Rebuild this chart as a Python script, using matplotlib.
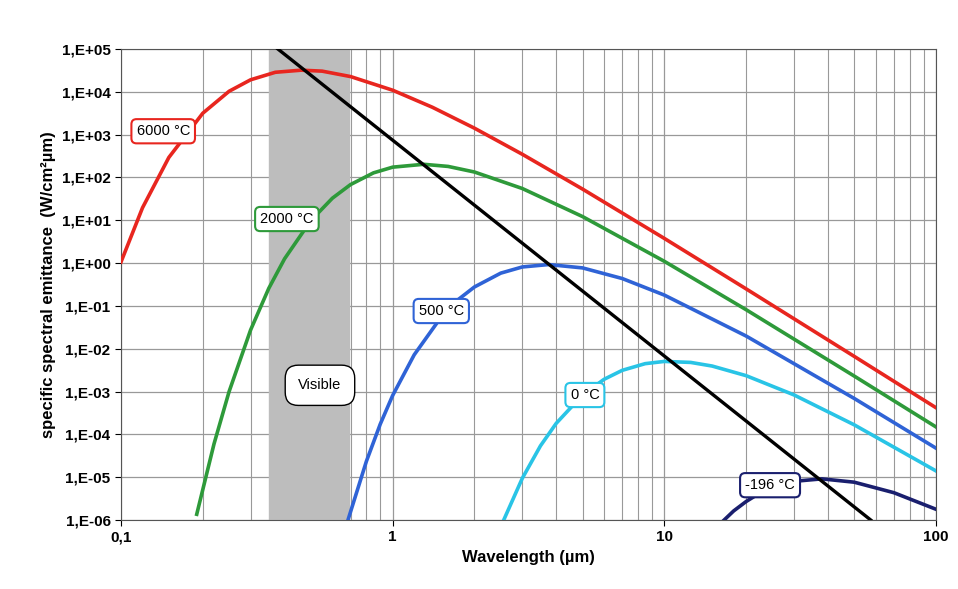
import numpy as np
import matplotlib
matplotlib.use('Agg')
import matplotlib.pyplot as plt
from matplotlib.ticker import FixedLocator, FuncFormatter, NullFormatter

plt.rcParams['font.family'] = ['Liberation Sans', 'DejaVu Sans']

# values (wavelength in um, emittance in W/cm2um)
wl_6000 = [0.1, 0.12, 0.15, 0.2, 0.25, 0.3, 0.37, 0.46, 0.55, 0.7, 1, 1.4, 2, 3, 5, 10, 20, 50, 100]
em_6000 = [1.06, 19.6, 293, 3163, 1.03e4, 1.91e4, 2.86e4, 3.2e4, 3.04e4, 2.27e4, 1.09e4, 4360, 1415,
           348, 53.5, 3.77, 0.25, 6.63e-3, 4.19e-4]

wl_2000 = [0.19, 0.22, 0.25, 0.3, 0.35, 0.4, 0.5, 0.6, 0.7, 0.85, 1, 1.3, 1.6, 2, 3, 5, 10, 20, 50, 100]
em_2000 = [1.36e-6, 6.0e-5, 1.0e-3, 0.0275, 0.258, 1.26, 9.87, 32.8, 68.3, 128, 174, 203, 181, 134,
           55.2, 12.2, 1.10, 0.0816, 2.30e-3, 1.49e-4]

wl_500 = [0.68, 0.8, 0.9, 1, 1.2, 1.5, 1.75, 2, 2.5, 3, 3.75, 5, 7, 10, 20, 50, 100]
em_500 = [8.7e-7, 2.33e-5, 1.73e-4, 8.1e-4, 7.2e-3, 0.0523, 0.1435, 0.277, 0.583, 0.812, 0.924,
          0.772, 0.436, 0.179, 0.0198, 6.9e-4, 4.76e-5]

wl_0 = [2.5, 3, 3.5, 4, 5, 6, 7, 8.5, 10, 12.5, 15, 20, 30, 50, 100]
em_0 = [7.0e-7, 9.4e-6, 5.4e-5, 1.81e-4, 8.3e-4, 1.93e-3, 3.13e-3, 4.48e-3, 5.05e-3, 4.79e-3,
        3.94e-3, 2.35e-3, 8.35e-4, 1.67e-4, 1.40e-5]

wl_m196 = [16, 18, 20, 22, 25, 30, 38, 50, 70, 100]
em_m196 = [8.0e-7, 1.63e-6, 2.7e-6, 3.93e-6, 5.74e-6, 8.0e-6, 9.14e-6, 7.64e-6, 4.34e-6, 1.78e-6]

wl_wien = [0.378, 57.5]
em_wien = [1e5, 1e-6]

visible = (0.35, 0.69)

fig = plt.figure(figsize=(9.58, 5.89), dpi=100)
ax = fig.add_axes([121/958, 1-520/589, (936-121)/958, (520-49)/589])
ax.set_xscale('log')
ax.set_yscale('log')
ax.set_xlim(0.1, 100)
ax.set_ylim(1e-6, 1e5)

ax.axvspan(*visible, color='#bdbdbd', zorder=1)

curves = [
    (wl_6000, em_6000, '#e8261f', '6000 °C', (0.143, 1.2e3)),
    (wl_2000, em_2000, '#2e9a3a', '2000 °C', (0.408, 10.7)),
    (wl_500, em_500, '#2f63d6', '500 °C', (1.51, 0.076)),
    (wl_0, em_0, '#29c4e6', '0 °C', (5.1, 8.3e-4)),
    (wl_m196, em_m196, '#1a1f6e', '-196 °C', (24.5, 6.5e-6)),
]
for wl, em, col, lab, pos in curves:
    ax.plot(wl, em, color=col, lw=2.6, zorder=3, solid_joinstyle='round')
    ax.text(pos[0], pos[1], lab, ha='center', va='center', fontsize=10.5, zorder=5,
            bbox=dict(boxstyle='round,pad=0.35', fc='white', ec=col, lw=1.5))

ax.plot(wl_wien, em_wien, color='black', lw=2.4, zorder=4)
ax.text(0.54, 1.4e-3, 'Visible', ha='center', va='center', fontsize=10.5, zorder=5,
        bbox=dict(boxstyle='round,pad=0.9', fc='white', ec='black', lw=1))

ax.yaxis.set_major_locator(FixedLocator([10.0**k for k in range(-6, 6)]))
ax.yaxis.set_minor_formatter(NullFormatter())
ax.yaxis.set_minor_locator(FixedLocator([]))
ax.yaxis.set_major_formatter(FuncFormatter(
    lambda v, p: '1,E%s%02d' % ('+' if v >= 1 else '-', abs(int(round(np.log10(v)))))))
ax.xaxis.set_major_formatter(FuncFormatter(lambda v, p: ('%g' % v).replace('.', ',')))
ax.grid(True, which='major', color='#999999', lw=0.9, zorder=0)
ax.grid(True, which='minor', axis='x', color='#999999', lw=0.8, zorder=0)
ax.set_axisbelow(True)
ax.tick_params(labelsize=11, which='both', direction='out', length=4)
ax.tick_params(axis='x', which='minor', length=0)
for lbl in ax.get_xticklabels() + ax.get_yticklabels():
    lbl.set_fontweight('bold')
for s in ax.spines.values():
    s.set_color('#555555')

ax.set_xlabel('Wavelength (µm)', fontsize=12, fontweight='bold')
ax.set_ylabel('specific spectral emittance  (W/cm²µm)', fontsize=12, fontweight='bold')

fig.savefig('out.png', dpi=100)
